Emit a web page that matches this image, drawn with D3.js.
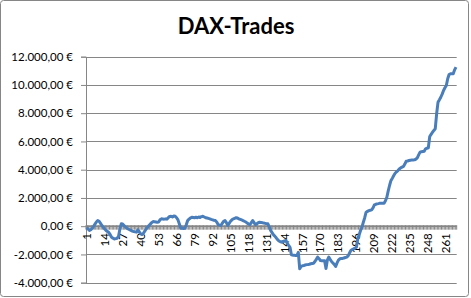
<!DOCTYPE html>
<html>
<head>
<meta charset="utf-8">
<script src="https://cdn.jsdelivr.net/npm/d3@7"></script>
<style>
  body { margin: 0; background: #fff; }
  text { font-family: Lato, "Liberation Sans", sans-serif; fill: #000; }
</style>
</head>
<body>
<div id="chart"></div>
<script>
// ----- DAX-Trades line chart -----

const title = "DAX-Trades";

// cumulative result per trade (trade 1..268)
const values = [
  -100, -200, -300, -250, -150, 0, 150, 300, 400, 350,
  200, 50, -70, -200, -300, -375, -450, -600, -780, -850,
  -900, -880, -850, -730, -200, 170, 150, 50, -50, -140,
  -200, -250, -300, -350, -380, -400, -420, -250, -400, -550,
  -590, -500, -350, -200, -70, 50, 150, 250, 330, 320,
  300, 280, 300, 450, 520, 510, 500, 520, 500, 600,
  690, 700, 650, 720, 700, 600, 450, 150, -140, -150,
  -160, -150, 100, 400, 500, 580, 640, 620, 600, 630,
  600, 650, 620, 680, 700, 650, 600, 580, 550, 520,
  480, 450, 420, 400, 300, 120, 80, 50, 200, 350,
  400, 250, 50, 200, 350, 450, 520, 560, 600, 580,
  520, 480, 440, 400, 350, 300, 220, 150, 100, 250,
  400, 250, 100, 180, 250, 280, 270, 250, 220, 200,
  180, 170, -50, -300, -450, -600, -700, -820, -950, -1050,
  -1100, -1130, -1080, -1050, -1010, -1200, -1350, -1490, -2020, -2050,
  -2060, -2070, -2070, -1850, -3020, -2850, -2800, -2780, -2750, -2720,
  -2710, -2690, -2660, -2640, -2620, -2500, -2350, -2190, -2300, -2430,
  -2440, -2450, -2450, -3000, -2400, -2190, -2350, -2500, -2600, -2700,
  -2850, -2600, -2400, -2310, -2290, -2280, -2250, -2220, -2190, -2100,
  -1900, -1720, -1650, -1600, -1550, -1490, -890, -600, -300, -70,
  280, 600, 990, 1050, 1100, 1130, 1160, 1300, 1510, 1550,
  1580, 1600, 1630, 1620, 1630, 1630, 1800, 2050, 2500, 2900,
  3240, 3400, 3590, 3750, 3850, 3940, 4050, 4130, 4180, 4230,
  4400, 4600, 4620, 4650, 4670, 4680, 4690, 4700, 4750, 4840,
  5050, 5240, 5270, 5290, 5310, 5480, 5520, 5550, 6350, 6500,
  6650, 6780, 6900, 7960, 8780, 8950, 9130, 9350, 9610, 9800,
  9960, 10440, 10740, 10790, 10800, 10790, 11070, 11260
];
const trades = values.map((v, i) => i + 1);

const yTicks = [-4000, -2000, 0, 2000, 4000, 6000, 8000, 10000, 12000];
const labelEvery = 13;

const width = 471, height = 298;
const plot = { left: 86, right: 456.7, top: 56.7, bottom: 282.7 };
const gridColor = "#868686";

const svg = d3.select("#chart")
    .append("svg")
    .attr("width", width)
    .attr("height", height);

// outer chart frame
svg.append("rect")
    .attr("x", 0.5).attr("y", 0.5)
    .attr("width", 468).attr("height", 296)
    .attr("rx", 3)
    .attr("fill", "#fff")
    .attr("stroke", gridColor);

svg.append("text")
    .attr("x", 236)
    .attr("y", 34)
    .attr("text-anchor", "middle")
    .style("font-size", "22px")
    .style("font-weight", "bold")
    .text(title);

const x = d3.scaleBand().domain(trades).range([plot.left, plot.right]);
const y = d3.scaleLinear().domain([-4000, 12000]).range([plot.bottom, plot.top]);

const de = d3.formatLocale({ decimal: ",", thousands: ".", grouping: [3], currency: ["", " €"], minus: "-" });
const fmt = de.format("$,.2f");

// horizontal gridlines + y axis
const yAxis = svg.append("g")
    .attr("transform", `translate(${plot.left},0)`)
    .call(d3.axisLeft(y).tickValues(yTicks).tickFormat(fmt).tickSizeOuter(0).tickSize(5).tickPadding(8));
yAxis.select(".domain").attr("stroke", gridColor);
yAxis.selectAll(".tick line").attr("stroke", gridColor);
yAxis.selectAll(".tick text").style("font-size", "11.5px").style("font-family", "Lato, 'Liberation Sans', sans-serif");

svg.append("g")
    .selectAll("line")
    .data(yTicks.filter(d => d !== 0))
    .enter().append("line")
    .attr("x1", plot.left).attr("x2", plot.right)
    .attr("y1", d => Math.round(y(d)) + 0.5).attr("y2", d => Math.round(y(d)) + 0.5)
    .attr("stroke", gridColor);

// category axis at zero with a tick mark at every category boundary
const y0 = y(0);
const bounds = trades.map(d => x(d)).concat([plot.right]);
svg.append("g")
    .selectAll("line")
    .data(bounds)
    .enter().append("line")
    .attr("x1", d => d).attr("x2", d => d)
    .attr("y1", y0 - 1).attr("y2", y0 + 3.5)
    .attr("stroke", gridColor)
    .attr("stroke-width", 1);

svg.append("line")
    .attr("x1", plot.left).attr("x2", plot.right)
    .attr("y1", y0).attr("y2", y0)
    .attr("stroke", gridColor)
    .attr("stroke-width", 1.5);

svg.append("g")
    .selectAll("text")
    .data(trades.filter(d => (d - 1) % labelEvery === 0))
    .enter().append("text")
    .attr("transform", d => `translate(${x(d) + x.bandwidth() / 2},${y0 + 7}) rotate(-90)`)
    .attr("text-anchor", "end")
    .attr("dy", "0.35em")
    .style("font-size", "11.5px")
    .text(d => d);

// the series
const line = d3.line()
    .x((d, i) => x(trades[i]) + x.bandwidth() / 2)
    .y(d => y(d));

svg.append("path")
    .datum(values)
    .attr("fill", "none")
    .attr("stroke", "#4A7EBB")
    .attr("stroke-width", 3)
    .attr("stroke-linejoin", "round")
    .attr("d", line);
</script>
</body>
</html>
